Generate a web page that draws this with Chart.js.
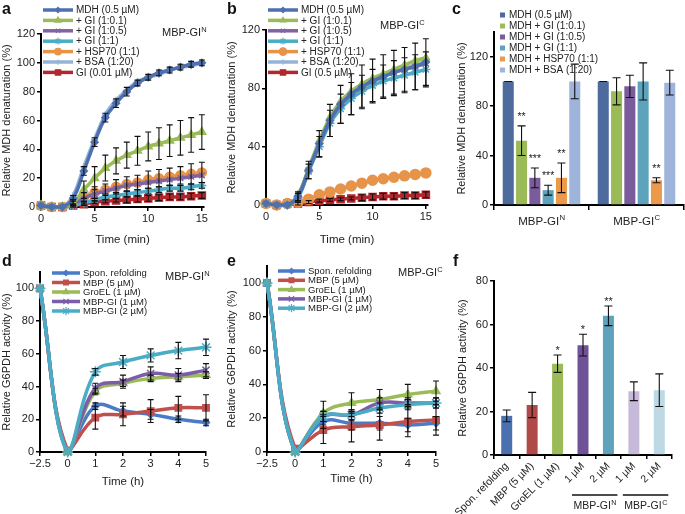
<!DOCTYPE html>
<html>
<head>
<meta charset="utf-8">
<script src="https://cdn.jsdelivr.net/npm/chart.js@4.4.1/dist/chart.umd.min.js"></script>
<style>
  body { margin: 0; background: #fff; }
  #page { position: relative; width: 685px; height: 514px; overflow: hidden;
          font-family: "Liberation Sans", Arial, Helvetica, sans-serif; color: #222; }
  canvas { position: absolute; }
  .letter { position: absolute; font-weight: bold; font-size: 16px; line-height: 16px; color: #111; }
  .tag { position: absolute; font-size: 11px; line-height: 13px; white-space: nowrap; }
  .tag sup { font-size: 7.5px; vertical-align: 4px; line-height: 0; }
</style>
</head>
<body>
<div id="page">
  <canvas id="chartA" style="left:0;top:0" width="225" height="250"></canvas>
  <canvas id="chartB" style="left:225px;top:0" width="225" height="250"></canvas>
  <canvas id="chartC" style="left:450px;top:0" width="235" height="250"></canvas>
  <canvas id="chartD" style="left:0;top:250px" width="225" height="240"></canvas>
  <canvas id="chartE" style="left:225px;top:250px" width="225" height="240"></canvas>
  <canvas id="chartF" style="left:450px;top:250px" width="235" height="264"></canvas>

  <div class="letter" style="left:2px;top:1px">a</div>
  <div class="letter" style="left:227px;top:1px">b</div>
  <div class="letter" style="left:452px;top:1px">c</div>
  <div class="letter" style="left:2px;top:253px">d</div>
  <div class="letter" style="left:227px;top:253px">e</div>
  <div class="letter" style="left:453px;top:253px">f</div>

  <div class="tag" style="left:162px;top:26px">MBP-GI<sup>N</sup></div>
  <div class="tag" style="left:380px;top:19px">MBP-GI<sup>C</sup></div>
  <div class="tag" style="left:165px;top:270px">MBP-GI<sup>N</sup></div>
  <div class="tag" style="left:398px;top:266px">MBP-GI<sup>C</sup></div>
</div>
<script>
const FONT = '"Liberation Sans", Arial, Helvetica, sans-serif';
Chart.defaults.font.family = FONT;
Chart.defaults.color = "#222";

// ---- a / b: MDH denaturation time courses (min)
const timeMin = [0, 1, 2, 3, 4, 5, 6, 7, 8, 9, 10, 11, 12, 13, 14, 15];
const timeMinTicks = [0, 5, 10, 15];

const aMdh = [1, 0, 0, 6, 25, 45, 62, 72, 80, 86, 90, 93, 95, 97, 99, 100];
const aMdhErr = [0, 0, 0, 2, 3, 3, 3, 3, 3, 2, 2, 2, 2, 2, 2, 2];
const aGi01 = [1, 0, 0, 3, 12, 20, 27, 32, 36, 39, 42, 44, 46, 48, 50, 52];
const aGi01Err = [0, 0, 0, 2, 6, 8, 9, 9, 9, 10, 10, 11, 11, 12, 12, 12];
const aGi05 = [1, 0, 0, 2, 6, 9, 11, 13, 15, 16, 17, 18, 19, 20, 21, 22];
const aGi1 = [1, 0, 0, 1, 3, 5, 7, 8, 9, 10, 11, 12, 13, 13, 14, 15];
const aGi1Err = [0, 0, 0, 1, 1, 1, 2, 2, 2, 2, 2, 2, 2, 2, 2, 2];
const aHsp = [1, 0, 0, 3, 7, 10, 12, 14, 16, 17, 19, 20, 21, 22, 23, 24];
const aHspErr = [0, 0, 0, 2, 3, 4, 4, 5, 5, 5, 6, 6, 6, 6, 7, 7];
const aBsa = [1, 0, 0, 8, 28, 47, 64, 74, 81, 87, 90, 92, 95, 97, 98, 100];
const aGi = [1, 0, 0, 1, 2, 3.5, 4, 4.5, 5, 5.5, 6, 6.5, 7, 7, 7.5, 8];
const aGiErr = [0, 0, 0, 1, 1, 1, 1, 1, 2, 2, 2, 2, 2, 2, 2, 2];

const bMdh = [1, 0, 0, 6, 24, 42, 58, 69, 76, 81, 85, 88, 91, 93, 95, 98];
const bMdhErr = [0, 0, 0, 3, 6, 9, 11, 13, 14, 15, 15, 15, 15, 15, 16, 16];
const bGi01 = [1, 0, 0, 7, 25, 44, 60, 71, 78, 83, 87, 90, 93, 96, 99, 101];
const bGi05 = [1, 0, 0, 6, 24, 42, 58, 69, 76, 81, 85, 88, 91, 93, 95, 97];
const bGi1 = [1, 0, 0, 5, 23, 40, 56, 66, 73, 78, 82, 85, 87, 89, 91, 93];
const bGi1Err = [0, 0, 0, 3, 5, 7, 9, 10, 11, 11, 11, 11, 12, 12, 12, 12];
const bHsp = [1, 0, 1, 2, 4, 7, 9, 11, 13, 15, 17, 18, 19, 20, 21, 22];
const bBsa = [1, 0, 0, 6, 25, 43, 59, 70, 77, 82, 86, 89, 92, 94, 96, 99];
const bGi = [1, 0, 1, 1, 2, 3, 3.5, 4, 4.5, 5, 5.5, 6, 6, 6.5, 6.5, 7];
const bGiErr = [0, 0, 0, 1, 1, 1, 1, 1, 1, 2, 2, 2, 2, 2, 2, 2];

// ---- c: end-point denaturation bars
const cGroupBase = "MBP-GI";
const cGroupSup = ["N", "C"];
const cMdh = [100, 100];       const cMdhErr = [0, 0];       const cMdhSig = ["", ""];
const cGi01 = [52, 92];        const cGi01Err = [12, 11];    const cGi01Sig = ["**", ""];
const cGi05 = [22, 96];        const cGi05Err = [8, 9];      const cGi05Sig = ["***", ""];
const cGi1 = [12, 100];        const cGi1Err = [4, 15];      const cGi1Sig = ["***", ""];
const cHsp = [22, 20];         const cHspErr = [12, 2];      const cHspSig = ["**", "**"];
const cBsa = [100, 99];        const cBsaErr = [14, 10];     const cBsaSig = ["", ""];

// ---- d / e: G6PDH refolding time courses (h)
const timeH = ["\u22122.5", "0", "1", "2", "3", "4", "5"];

const dSpon = [100, 0, 28, 25, 23, 20, 18];   const dSponErr = [0, 0, 2, 3, 3, 2, 2];
const dMbp = [100, 1, 21, 23, 25, 27, 27];    const dMbpErr = [0, 0, 7, 7, 7, 7, 8];
const dGroel = [100, 0, 37, 42, 45, 46, 47];  const dGroelErr = [0, 0, 2, 2, 2, 2, 2];
const dGi1 = [100, 0, 39, 43, 48, 47, 50];    const dGi1Err = [0, 0, 3, 4, 4, 4, 4];
const dGi2 = [100, 0, 49, 55, 59, 62, 64];    const dGi2Err = [0, 0, 2, 4, 4, 5, 5];

const eSpon = [100, 0, 18, 17, 17, 16, 17];   const eSponErr = [0, 0, 4, 4, 4, 4, 4];
const eMbp = [100, 2, 13, 15, 16, 18, 19];    const eMbpErr = [0, 0, 8, 9, 9, 9, 9];
const eGroel = [100, 0, 23, 29, 31, 34, 36];  const eGroelErr = [0, 0, 7, 6, 6, 6, 6];
const eGi1 = [100, 0, 21, 22, 29, 29, 29];    const eGi1Err = [0, 0, 3, 3, 3, 3, 3];
const eGi2 = [100, 0, 21, 22, 26, 28, 29];    const eGi2Err = [0, 0, 3, 3, 3, 3, 3];

// ---- f: G6PDH activity after 5 h
const fLabels = ["Spon. refolding", "MBP (5 \u00b5M)", "GroEL (1 \u00b5M)", "1 \u00b5M", "2 \u00b5M", "1 \u00b5M", "2 \u00b5M"];
const fValues = [18, 23, 42, 50.5, 64, 29.3, 29.8];
const fErrors = [2.7, 5.8, 4, 5, 4.5, 4.3, 7.5];
const fSig = ["", "", "*", "*", "**", "", ""];
const fGroupBase = "MBP-GI";
const fGroupSup = ["N", "C"];
const fGroupSpan = [[3, 4], [5, 6]];
const fColors = ["#4a70b0", "#b04a48", "#9bbb59", "#6f5297", "#5ea2bb", "#c7bad9", "#bdd9e4"];

// ---------- plugins
function drawSup(ctx, base, sup, x, y, size, center) {
  ctx.font = size + "px " + FONT;
  const wb = ctx.measureText(base).width;
  ctx.font = (size * 0.68) + "px " + FONT;
  const ws = ctx.measureText(sup).width;
  const x0 = center ? x - (wb + ws) / 2 : x;
  ctx.textAlign = "left";
  ctx.textBaseline = "alphabetic";
  ctx.font = size + "px " + FONT;
  ctx.fillText(base, x0, y);
  ctx.font = (size * 0.68) + "px " + FONT;
  ctx.fillText(sup, x0 + wb + 0.5, y - size * 0.42);
}

const errorBars = {
  id: "errorBars",
  afterDatasetsDraw(chart, args, opts) {
    const ctx = chart.ctx;
    const ys = chart.scales.y;
    ctx.save();
    ctx.strokeStyle = "#111";
    ctx.lineWidth = 1.1;
    chart.data.datasets.forEach((ds, di) => {
      if (!ds.errors) return;
      chart.getDatasetMeta(di).data.forEach((el, i) => {
        const e = ds.errors[i];
        if (e == null || (e === 0 && !opts.zeroCaps)) return;
        const v = ds.data[i];
        const top = ys.getPixelForValue(v + e);
        const bot = ys.getPixelForValue(Math.max(v - e, 0));
        const w = opts.cap;
        ctx.beginPath();
        ctx.moveTo(el.x, top); ctx.lineTo(el.x, bot);
        ctx.moveTo(el.x - w, top); ctx.lineTo(el.x + w, top);
        ctx.moveTo(el.x - w, bot); ctx.lineTo(el.x + w, bot);
        ctx.stroke();
      });
    });
    ctx.restore();
  }
};

const sigMarks = {
  id: "sigMarks",
  afterDatasetsDraw(chart, args, opts) {
    const ctx = chart.ctx;
    const ys = chart.scales.y;
    ctx.save();
    ctx.fillStyle = "#222";
    ctx.font = opts.size + "px " + FONT;
    ctx.textAlign = "center";
    ctx.textBaseline = "alphabetic";
    chart.data.datasets.forEach((ds, di) => {
      if (!ds.sig) return;
      chart.getDatasetMeta(di).data.forEach((el, i) => {
        if (!ds.sig[i]) return;
        const y = ys.getPixelForValue(ds.data[i] + (ds.errors ? ds.errors[i] : 0));
        ctx.fillText(ds.sig[i], el.x, y + opts.lift);
      });
    });
    ctx.restore();
  }
};

const sideLegend = {
  id: "sideLegend",
  afterDraw(chart, args, opts) {
    if (!opts.x) return;
    const ctx = chart.ctx;
    ctx.save();
    chart.data.datasets.forEach((ds, i) => {
      const y = opts.y + i * opts.dy;
      if (opts.box) {
        ctx.fillStyle = ds.backgroundColor;
        ctx.fillRect(opts.x, y - opts.box / 2, opts.box, opts.box);
      } else {
        ctx.strokeStyle = ds.borderColor;
        ctx.lineWidth = 3.5;
        ctx.beginPath();
        ctx.moveTo(opts.x, y); ctx.lineTo(opts.x + opts.len, y);
        ctx.stroke();
        ctx.fillStyle = ds.pointBackgroundColor;
        ctx.strokeStyle = ds.pointBorderColor;
        ctx.lineWidth = 1.2;
        Chart.helpers.drawPoint(ctx, { pointStyle: ds.pointStyle, radius: ds.pointRadius * 0.75, borderWidth: 1.2 },
          opts.x + opts.len / 2, y);
      }
      ctx.fillStyle = "#222";
      ctx.font = opts.size + "px " + FONT;
      ctx.textAlign = "left";
      ctx.textBaseline = "middle";
      ctx.fillText(ds.label, opts.x + (opts.box || opts.len) + opts.gap, y + 0.5);
    });
    ctx.restore();
  }
};

const supCategories = {
  id: "supCategories",
  afterDraw(chart, args, opts) {
    if (!opts.sups) return;
    const ctx = chart.ctx;
    const xs = chart.scales.x;
    ctx.save();
    ctx.fillStyle = "#222";
    opts.sups.forEach((s, i) => drawSup(ctx, opts.base, s, xs.getPixelForValue(i), opts.y, opts.size, true));
    ctx.restore();
  }
};

const groupBrackets = {
  id: "groupBrackets",
  afterDraw(chart, args, opts) {
    if (!opts.spans) return;
    const ctx = chart.ctx;
    const xs = chart.scales.x;
    ctx.save();
    ctx.strokeStyle = "#111";
    ctx.fillStyle = "#222";
    ctx.lineWidth = 1.5;
    opts.spans.forEach((sp, i) => {
      const x0 = xs.getPixelForValue(sp[0]) - 11;
      const x1 = xs.getPixelForValue(sp[1]) + 9;
      ctx.beginPath();
      ctx.moveTo(x0, opts.lineY); ctx.lineTo(x1, opts.lineY);
      ctx.stroke();
      drawSup(ctx, opts.base, opts.sups[i], (x0 + x1) / 2, opts.textY, opts.size, true);
    });
    ctx.restore();
  }
};

// ---------- helpers
function axisBase() {
  return {
    grid: { drawOnChartArea: false, drawTicks: true, tickLength: 4, color: "#000", lineWidth: 1.5 },
    border: { display: true, color: "#000", width: 2 },
    ticks: { color: "#222", font: { size: 11 }, padding: 2 }
  };
}

function series(label, data, errors, color, style, radius) {
  return {
    label, data, errors,
    borderColor: color, backgroundColor: color,
    pointBackgroundColor: color, pointBorderColor: color,
    pointStyle: style, pointRadius: radius, pointBorderWidth: 1.5,
    borderWidth: 3.5, tension: 0.4, clip: false
  };
}

function timeCourse(id, cfg) {
  const x = axisBase();
  Object.assign(x, {
    type: cfg.xCategory ? "category" : "linear",
    offset: false,
    afterFit: (s) => { s.height = cfg.xHeight; },
    title: { display: true, text: cfg.xTitle, font: { size: 11.5 }, color: "#222", padding: { top: 0, bottom: cfg.xTitlePad } }
  });
  x.grid.offset = false;
  x.ticks.padding = 1;
  x.ticks.maxRotation = 0;
  if (!cfg.xCategory) {
    x.min = cfg.xMin;
    x.max = cfg.xMax;
    x.afterBuildTicks = (s) => { s.ticks = cfg.xTicks.map((v) => ({ value: v })); };
  }
  const y = axisBase();
  Object.assign(y, {
    min: 0, max: cfg.yMax,
    afterBuildTicks: (s) => { s.ticks = cfg.yTicks.map((v) => ({ value: v })); },
    afterFit: (s) => { s.width = cfg.yWidth; },
    title: { display: true, text: cfg.yTitle, font: { size: 11 }, color: "#222", padding: { top: 0.5, bottom: 0 } }
  });
  return new Chart(document.getElementById(id), {
    type: "line",
    data: { labels: cfg.labels, datasets: cfg.datasets },
    options: {
      responsive: false, animation: false, devicePixelRatio: 1,
      layout: { padding: { top: cfg.pad.top, right: cfg.pad.right, left: 0, bottom: 0 } },
      scales: { x, y },
      plugins: {
        legend: { display: false }, tooltip: { enabled: false },
        sideLegend: cfg.legend,
        errorBars: { cap: 3 }
      }
    },
    plugins: [errorBars, sideLegend]
  });
}

// ---------- a
timeCourse("chartA", {
  labels: timeMin,
  datasets: [
    series("MDH (0.5 \u00b5M)", aMdh, aMdhErr, "#4f70b0", "rectRot", 3.5),
    series("+ GI (1:0.1)", aGi01, aGi01Err, "#9bbb59", "triangle", 4.5),
    series("+ GI (1:0.5)", aGi05, null, "#8064a2", "crossRot", 4),
    series("+ GI (1:1)", aGi1, aGi1Err, "#4bacc6", "star", 4.5),
    series("+ HSP70 (1:1)", aHsp, aHspErr, "#e6944a", "circle", 4.5),
    series("+ BSA (1:20)", aBsa, null, "#95b3d7", "cross", 3.5),
    series("GI (0.01 \u00b5M)", aGi, aGiErr, "#b3262d", "rect", 5)
  ],
  xMin: 0, xMax: 15.2, xTicks: timeMinTicks, xTitle: "Time (min)", xHeight: 43, xTitlePad: 3,
  yMax: 120, yTicks: [0, 20, 40, 60, 80, 100, 120], yTitle: "Relative MDH denaturation (%)", yWidth: 41,
  pad: { top: 34, right: 21 },
  legend: { x: 43, y: 10, dy: 10.4, len: 30, gap: 3, size: 10 }
});

// ---------- b
timeCourse("chartB", {
  labels: timeMin,
  datasets: [
    series("MDH (0.5 \u00b5M)", bMdh, bMdhErr, "#4f70b0", "rectRot", 3.5),
    series("+ GI (1:0.1)", bGi01, null, "#9bbb59", "triangle", 4),
    series("+ GI (1:0.5)", bGi05, null, "#8064a2", "crossRot", 4),
    series("+ GI (1:1)", bGi1, bGi1Err, "#4bacc6", "star", 4.5),
    series("+ HSP70 (1:1)", bHsp, null, "#e6944a", "circle", 5),
    series("+ BSA (1:20)", bBsa, null, "#95b3d7", "cross", 3.5),
    series("GI (0.5 \u00b5M)", bGi, bGiErr, "#b3262d", "rect", 5)
  ],
  xMin: 0, xMax: 15.2, xTicks: timeMinTicks, xTitle: "Time (min)", xHeight: 45, xTitlePad: 3,
  yMax: 120, yTicks: [0, 40, 80, 120], yTitle: "Relative MDH denaturation (%)", yWidth: 41,
  pad: { top: 30, right: 22 },
  legend: { x: 43, y: 10, dy: 10.4, len: 30, gap: 3, size: 10 }
});

// ---------- d
const dSets = [
  series("Spon. refolding", dSpon, dSponErr, "#4a7bc8", "rectRot", 3.5),
  series("MBP (5 \u00b5M)", dMbp, dMbpErr, "#c0504d", "rect", 4.5),
  series("GroEL (1 \u00b5M)", dGroel, dGroelErr, "#9bbb59", "triangle", 4.5),
  series("MBP-GI (1 \u00b5M)", dGi1, dGi1Err, "#7b5ea7", "crossRot", 5),
  series("MBP-GI (2 \u00b5M)", dGi2, dGi2Err, "#4bacc6", "star", 5.5)
];
dSets.forEach((ds, i) => { ds.order = dSets.length - i; });
timeCourse("chartD", {
  labels: timeH, xCategory: true,
  datasets: dSets,
  xTitle: "Time (h)", xHeight: 38, xTitlePad: 1,
  yMax: 110, yTicks: [0, 20, 40, 60, 80, 100], yTitle: "Relative G6PDH activity (%)", yWidth: 40,
  pad: { top: 22, right: 19 },
  legend: { x: 52, y: 23, dy: 9.5, len: 28, gap: 3, size: 9.5 }
});

// ---------- e
const eSets = [
  series("Spon. refolding", eSpon, eSponErr, "#4a7bc8", "rectRot", 3.5),
  series("MBP (5 \u00b5M)", eMbp, eMbpErr, "#c0504d", "rect", 4.5),
  series("GroEL (1 \u00b5M)", eGroel, eGroelErr, "#9bbb59", "triangle", 4.5),
  series("MBP-GI (1 \u00b5M)", eGi1, eGi1Err, "#7b5ea7", "crossRot", 5),
  series("MBP-GI (2 \u00b5M)", eGi2, eGi2Err, "#4bacc6", "star", 5.5)
];
eSets.forEach((ds, i) => { ds.order = eSets.length - i; });
timeCourse("chartE", {
  labels: timeH, xCategory: true,
  datasets: eSets,
  xTitle: "Time (h)", xHeight: 38, xTitlePad: 4,
  yMax: 110, yTicks: [0, 20, 40, 60, 80, 100], yTitle: "Relative G6PDH activity (%)", yWidth: 42,
  pad: { top: 16, right: 14 },
  legend: { x: 53, y: 21, dy: 9.3, len: 27, gap: 3, size: 9.5 }
});

// ---------- c
function barSet(label, data, errors, sig, color) {
  return { label, data, errors, sig, backgroundColor: color, borderWidth: 0 };
}
new Chart(document.getElementById("chartC"), {
  type: "bar",
  data: {
    labels: cGroupSup.map((s) => cGroupBase + s),
    datasets: [
      barSet("MDH (0.5 \u00b5M)", cMdh, cMdhErr, cMdhSig, "#4e6b9e"),
      barSet("MDH + GI (1:0.1)", cGi01, cGi01Err, cGi01Sig, "#9bbb59"),
      barSet("MDH + GI (1:0.5)", cGi05, cGi05Err, cGi05Sig, "#7a5b9b"),
      barSet("MDH + GI (1:1)", cGi1, cGi1Err, cGi1Sig, "#5ea3bc"),
      barSet("MDH + HSP70 (1:1)", cHsp, cHspErr, cHspSig, "#eb9a4c"),
      barSet("MDH + BSA (1:20)", cBsa, cBsaErr, cBsaSig, "#9fb4da")
    ]
  },
  options: {
    responsive: false, animation: false, devicePixelRatio: 1,
    layout: { padding: { top: 32, right: 1, left: 0, bottom: 0 } },
    datasets: { bar: { categoryPercentage: 0.84, barPercentage: 0.83 } },
    scales: {
      x: Object.assign(axisBase(), {
        afterFit: (s) => { s.height = 45; }
      }),
      y: Object.assign(axisBase(), {
        min: 0, max: 140,
        afterBuildTicks: (s) => { s.ticks = [0, 40, 80, 120].map((v) => ({ value: v })); },
        afterFit: (s) => { s.width = 44; },
        title: { display: true, text: "Relative MDH denaturation (%)", font: { size: 11 }, color: "#222", padding: { top: 5, bottom: 0 } }
      })
    },
    plugins: {
      legend: { display: false }, tooltip: { enabled: false },
      sideLegend: { x: 50, y: 15, dy: 11, box: 5, gap: 4, size: 10 },
      errorBars: { cap: 4, zeroCaps: true },
      sigMarks: { size: 10.5, lift: -6 },
      supCategories: { base: cGroupBase, sups: cGroupSup, y: 225, size: 11.5 }
    }
  },
  plugins: [errorBars, sigMarks, sideLegend, supCategories]
});
Chart.getChart("chartC").options.scales.x.ticks.display = false;
Chart.getChart("chartC").options.scales.x.grid.tickLength = 5;
Chart.getChart("chartC").update();

// ---------- f
new Chart(document.getElementById("chartF"), {
  type: "bar",
  data: {
    labels: fLabels,
    datasets: [{ label: "G6PDH activity", data: fValues, errors: fErrors, sig: fSig, backgroundColor: fColors, borderWidth: 0 }]
  },
  options: {
    responsive: false, animation: false, devicePixelRatio: 1,
    layout: { padding: { top: 31, right: 13, left: 0, bottom: 0 } },
    datasets: { bar: { categoryPercentage: 0.8, barPercentage: 0.54 } },
    scales: {
      x: Object.assign(axisBase(), {
        afterFit: (s) => { s.height = 59; }
      }),
      y: Object.assign(axisBase(), {
        min: 0, max: 80,
        afterBuildTicks: (s) => { s.ticks = [0, 20, 40, 60, 80].map((v) => ({ value: v })); },
        afterFit: (s) => { s.width = 44; },
        title: { display: true, text: "Relative G6PDH activity (%)", font: { size: 11 }, color: "#222", padding: { top: 6, bottom: 0 } }
      })
    },
    plugins: {
      legend: { display: false }, tooltip: { enabled: false },
      errorBars: { cap: 4, zeroCaps: true },
      sigMarks: { size: 11, lift: -1 },
      groupBrackets: { base: fGroupBase, sups: fGroupSup, spans: fGroupSpan, lineY: 245, textY: 259, size: 10.5 }
    }
  },
  plugins: [errorBars, sigMarks, groupBrackets]
});
const fChart = Chart.getChart("chartF");
Object.assign(fChart.options.scales.x.ticks, { maxRotation: 45, minRotation: 45, autoSkip: false, font: { size: 10.5 }, padding: 1 });
fChart.update();
</script>
</body>
</html>
